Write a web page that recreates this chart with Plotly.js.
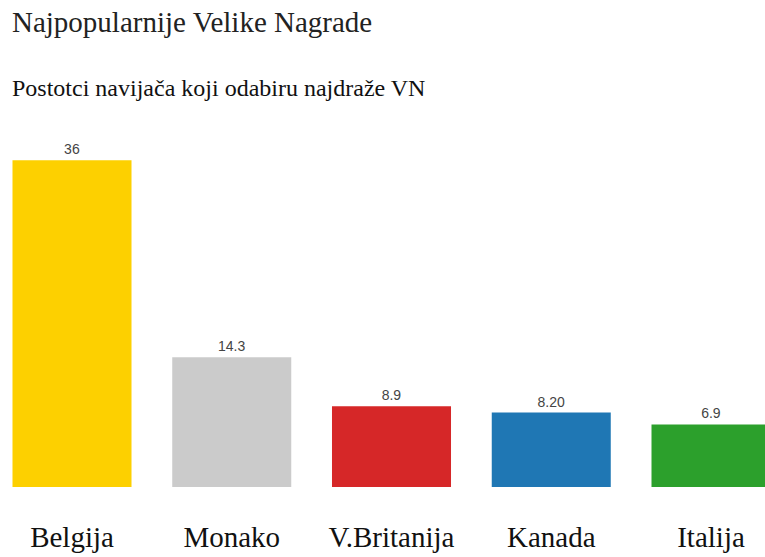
<!DOCTYPE html>
<html>
<head>
<meta charset="utf-8">
<script src="https://cdn.plot.ly/plotly-3.0.1.min.js"></script>
<style>html,body{margin:0;padding:0;background:#fff;}#chart{width:765px;height:557px;}</style>
</head>
<body>
<div id="chart"></div>
<script>
const categories = ["Belgija", "Monako", "V.Britanija", "Kanada", "Italija"];
const values = [36, 14.3, 8.9, 8.2, 6.9];
const valueLabels = ["36", "14.3", "8.9", "8.20", "6.9"];
const barColors = ["#FDD000", "#CBCBCB", "#D62728", "#1F77B4", "#2CA02C"];
const titleText = "Najpopularnije Velike Nagrade";
const subtitleText = "Postotci navijača koji odabiru najdraže VN";

const serif = "'Liberation Serif', 'Times New Roman', serif";

const trace = {
  type: "bar",
  x: categories,
  y: values,
  text: valueLabels,
  textposition: "outside",
  texttemplate: "%{text}",
  cliponaxis: false,
  textfont: {family: "'Liberation Sans', Arial, sans-serif", size: 14, color: "#444"},
  marker: {color: barColors},
  hoverinfo: "none"
};

const layout = {
  width: 765,
  height: 557,
  margin: {l: 0, r: 0, t: 124, b: 70, pad: 0},
  paper_bgcolor: "#fff",
  plot_bgcolor: "#fff",
  bargap: 0.255,
  showlegend: false,
  xaxis: {
    type: "category",
    range: [-0.4507, 4.338],
    showgrid: false,
    zeroline: false,
    showline: false,
    ticks: "outside",
    ticklen: 24,
    tickcolor: "rgba(0,0,0,0)",
    tickfont: {family: serif, size: 29, color: "#111"},
    fixedrange: true
  },
  yaxis: {
    range: [0, 40],
    visible: false,
    showgrid: false,
    zeroline: false,
    fixedrange: true
  },
  annotations: [
    {
      text: titleText,
      xref: "paper", yref: "paper",
      x: 0, y: 1.281, xshift: 10,
      xanchor: "left", yanchor: "middle",
      showarrow: false,
      font: {family: serif, size: 29, color: "#222"}
    },
    {
      text: subtitleText,
      xref: "paper", yref: "paper",
      x: 0, y: 1.099, xshift: 10,
      xanchor: "left", yanchor: "middle",
      showarrow: false,
      font: {family: serif, size: 24, color: "#111"}
    }
  ]
};

Plotly.newPlot("chart", [trace], layout, {displayModeBar: false, staticPlot: true});
</script>
</body>
</html>
